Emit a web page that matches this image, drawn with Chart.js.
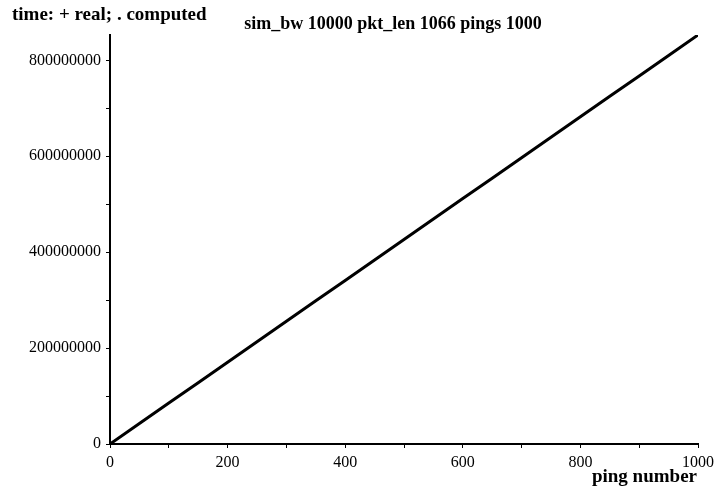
<!DOCTYPE html>
<html>
<head>
<meta charset="utf-8">
<script src="https://cdn.jsdelivr.net/npm/chart.js@4/dist/chart.umd.min.js"></script>
<style>
  html, body { margin: 0; padding: 0; background: #fff; }
  #c { display: block; }
</style>
</head>
<body>
<canvas id="c" width="717" height="495"></canvas>
<script>
// Ping numbers sampled along the run
const pings = [0, 50, 100, 150, 200, 250, 300, 350, 400, 450, 500,
               550, 600, 650, 700, 750, 800, 850, 900, 950, 1000];
// Measured cumulative time
const realTime = [0, 42640000, 85280000, 127920000, 170560000, 213200000,
                  255840000, 298480000, 341120000, 383760000, 426400000,
                  469040000, 511680000, 554320000, 596960000, 639600000,
                  682240000, 724880000, 767520000, 810160000, 852800000];
// Computed cumulative time
const computedTime = [0, 42640000, 85280000, 127920000, 170560000, 213200000,
                      255840000, 298480000, 341120000, 383760000, 426400000,
                      469040000, 511680000, 554320000, 596960000, 639600000,
                      682240000, 724880000, 767520000, 810160000, 852800000];

// Tick positions (every position gets a mark, listed labels get text)
const xTickValues = [0, 100, 200, 300, 400, 500, 600, 700, 800, 900, 1000];
const xTickLabels = ['0', '200', '400', '600', '800', '1000'];
const yTickValues = [0, 100000000, 200000000, 300000000, 400000000,
                     500000000, 600000000, 700000000, 800000000];
const yTickLabels = ['0', '200000000', '400000000', '600000000', '800000000'];

const titleText = 'sim_bw 10000 pkt_len 1066 pings 1000';
const yLabelText = 'time: + real; . computed';
const xLabelText = 'ping number';

const SERIF = '"Liberation Serif", "Times New Roman", serif';

const toXY = (ys) => pings.map((p, i) => ({ x: p, y: ys[i] }));
const labelFor = (list) => (v) => {
  const s = String(Math.round(v));
  return list.includes(s) ? s : '';
};

// Free-standing labels placed around the plot
const labelPlugin = {
  id: 'labels',
  afterDraw(chart) {
    const ctx = chart.ctx;
    const a = chart.chartArea;
    ctx.save();
    ctx.fillStyle = '#000';
    ctx.textBaseline = 'alphabetic';
    ctx.font = 'bold 19px ' + SERIF;
    ctx.textAlign = 'left';
    ctx.fillText(yLabelText, 12, 20);
    ctx.textAlign = 'right';
    ctx.fillText(xLabelText, a.right - 1, 482);
    ctx.font = 'bold 18px ' + SERIF;
    ctx.textAlign = 'center';
    ctx.fillText(titleText, 393, 29);
    ctx.restore();
  }
};

const axisCommon = {
  grid: {
    display: true,
    drawOnChartArea: false,
    drawTicks: true,
    tickLength: 4,
    color: '#000',
    lineWidth: 1
  },
  border: { display: true, color: '#000', width: 2 }
};

new Chart(document.getElementById('c'), {
  type: 'line',
  data: {
    datasets: [
      {
        label: 'computed',
        data: toXY(computedTime),
        borderColor: '#000',
        borderWidth: 1.5,
        pointRadius: 0,
        tension: 0
      },
      {
        label: 'real',
        data: toXY(realTime),
        borderColor: '#000',
        borderWidth: 3,
        pointRadius: 0,
        tension: 0
      }
    ]
  },
  options: {
    responsive: false,
    animation: false,
    layout: { padding: { left: 0, right: 19, top: 35, bottom: 0 } },
    plugins: {
      legend: { display: false },
      title: { display: false },
      tooltip: { enabled: false }
    },
    scales: {
      x: {
        type: 'linear',
        min: 0,
        max: 1000,
        ...axisCommon,
        afterBuildTicks(scale) {
          scale.ticks = xTickValues.map((v) => ({ value: v }));
        },
        ticks: {
          autoSkip: false,
          maxRotation: 0,
          padding: 5,
          color: '#000',
          font: { family: SERIF, size: 16 },
          callback: labelFor(xTickLabels)
        },
        afterFit(scale) {
          scale.height = 51;
          scale.paddingLeft = 0;
          scale.paddingRight = 0;
        }
      },
      y: {
        type: 'linear',
        min: 0,
        max: 852800000,
        ...axisCommon,
        afterBuildTicks(scale) {
          scale.ticks = yTickValues.map((v) => ({ value: v }));
        },
        ticks: {
          autoSkip: false,
          padding: 5,
          color: '#000',
          font: { family: SERIF, size: 16 },
          callback: labelFor(yTickLabels)
        },
        afterFit(scale) {
          scale.width = 110;
          scale.paddingTop = 0;
          scale.paddingBottom = 0;
        }
      }
    }
  },
  plugins: [labelPlugin]
});
</script>
</body>
</html>
